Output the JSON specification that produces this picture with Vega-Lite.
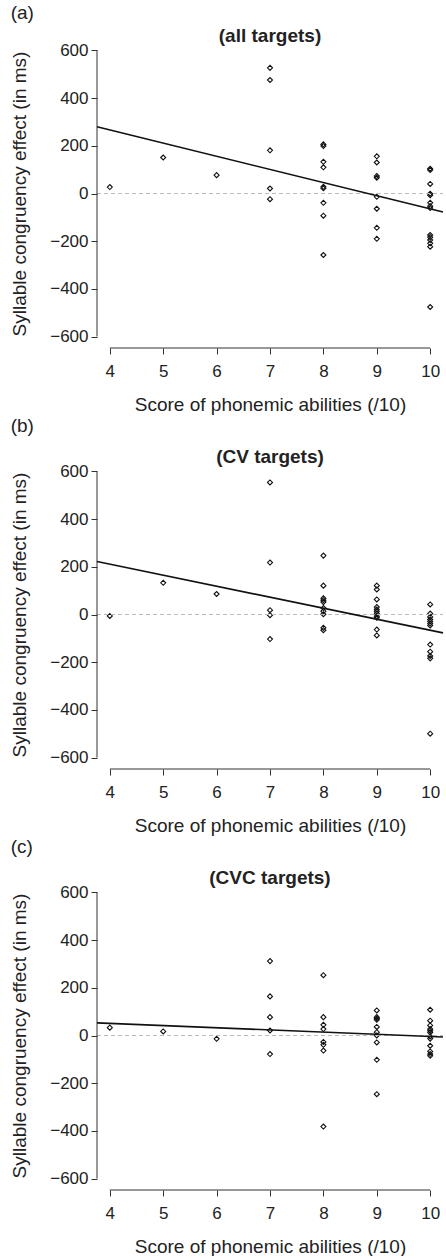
{
  "$schema": "https://vega.github.io/schema/vega-lite/v6.json",
  "autosize": {"type": "pad"},
  "padding": {"left": 10, "top": 4, "right": 0, "bottom": 0},
  "background": "white",
  "config": {
    "view": {"stroke": null},
    "font": "Liberation Sans",
    "axis": {
      "domain": false, "grid": false, "tickSize": 6, "tickColor": "#333", "tickWidth": 1,
      "labelFontSize": 17, "labelColor": "#222", "labelFont": "Liberation Sans",
      "titleFontSize": 19, "titleFontWeight": "normal", "titleColor": "#222", "titleFont": "Liberation Sans"
    }
  },
  "datasets": {
    "a": [
      {"x": 4, "y": 27}, {"x": 5, "y": 151}, {"x": 6, "y": 77},
      {"x": 7, "y": 527}, {"x": 7, "y": 476}, {"x": 7, "y": 181}, {"x": 7, "y": 21}, {"x": 7, "y": -24},
      {"x": 8, "y": 206}, {"x": 8, "y": 199}, {"x": 8, "y": 133}, {"x": 8, "y": 110}, {"x": 8, "y": 28}, {"x": 8, "y": 22}, {"x": 8, "y": -39}, {"x": 8, "y": -93}, {"x": 8, "y": -258},
      {"x": 9, "y": 156}, {"x": 9, "y": 130}, {"x": 9, "y": 73}, {"x": 9, "y": 66}, {"x": 9, "y": -14}, {"x": 9, "y": -64}, {"x": 9, "y": -144}, {"x": 9, "y": -190},
      {"x": 10, "y": 104}, {"x": 10, "y": 99}, {"x": 10, "y": 40}, {"x": 10, "y": -1}, {"x": 10, "y": -7}, {"x": 10, "y": -39}, {"x": 10, "y": -53}, {"x": 10, "y": -61}, {"x": 10, "y": -174}, {"x": 10, "y": -183}, {"x": 10, "y": -195}, {"x": 10, "y": -209}, {"x": 10, "y": -223}, {"x": 10, "y": -476}
    ],
    "b": [
      {"x": 4, "y": -6}, {"x": 5, "y": 133}, {"x": 6, "y": 86},
      {"x": 7, "y": 554}, {"x": 7, "y": 218}, {"x": 7, "y": 18}, {"x": 7, "y": -3}, {"x": 7, "y": -103},
      {"x": 8, "y": 247}, {"x": 8, "y": 121}, {"x": 8, "y": 68}, {"x": 8, "y": 60}, {"x": 8, "y": 52}, {"x": 8, "y": 27}, {"x": 8, "y": 14}, {"x": 8, "y": 1}, {"x": 8, "y": -56}, {"x": 8, "y": -66},
      {"x": 9, "y": 121}, {"x": 9, "y": 105}, {"x": 9, "y": 63}, {"x": 9, "y": 31}, {"x": 9, "y": 21}, {"x": 9, "y": 13}, {"x": 9, "y": 4}, {"x": 9, "y": -7}, {"x": 9, "y": -14}, {"x": 9, "y": -63}, {"x": 9, "y": -88},
      {"x": 10, "y": 42}, {"x": 10, "y": 4}, {"x": 10, "y": -10}, {"x": 10, "y": -21}, {"x": 10, "y": -29}, {"x": 10, "y": -38}, {"x": 10, "y": -46}, {"x": 10, "y": -126}, {"x": 10, "y": -156}, {"x": 10, "y": -174}, {"x": 10, "y": -184}, {"x": 10, "y": -500}
    ],
    "c": [
      {"x": 4, "y": 33}, {"x": 5, "y": 17}, {"x": 6, "y": -14},
      {"x": 7, "y": 312}, {"x": 7, "y": 164}, {"x": 7, "y": 77}, {"x": 7, "y": 21}, {"x": 7, "y": -78},
      {"x": 8, "y": 253}, {"x": 8, "y": 77}, {"x": 8, "y": 45}, {"x": 8, "y": 27}, {"x": 8, "y": -27}, {"x": 8, "y": -39}, {"x": 8, "y": -63}, {"x": 8, "y": -382},
      {"x": 9, "y": 105}, {"x": 9, "y": 77}, {"x": 9, "y": 71}, {"x": 9, "y": 66}, {"x": 9, "y": 36}, {"x": 9, "y": 14}, {"x": 9, "y": 0}, {"x": 9, "y": -29}, {"x": 9, "y": -102}, {"x": 9, "y": -246},
      {"x": 10, "y": 108}, {"x": 10, "y": 62}, {"x": 10, "y": 42}, {"x": 10, "y": 27}, {"x": 10, "y": 20}, {"x": 10, "y": 13}, {"x": 10, "y": -4}, {"x": 10, "y": -13}, {"x": 10, "y": -43}, {"x": 10, "y": -67}, {"x": 10, "y": -78}, {"x": 10, "y": -85}
    ],
    "fitA": [{"x": 3.76, "y": 280}, {"x": 10.24, "y": -78}],
    "fitB": [{"x": 3.76, "y": 222}, {"x": 10.24, "y": -77}],
    "fitC": [{"x": 3.76, "y": 53}, {"x": 10.24, "y": -6}],
    "one": [{}]
  },
  "vconcat": [
    {
      "width": 346, "height": 309,
      "title": {"text": "(a)", "anchor": "start", "frame": "bounds", "fontSize": 19, "fontWeight": "normal", "color": "#222", "offset": 4},
      "layer": [
        {"data": {"name": "a"}, "mark": {"type": "point", "shape": "diamond", "filled": false, "size": 25, "stroke": "#111", "strokeWidth": 1.1, "opacity": 1},
         "encoding": {
           "x": {"field": "x", "type": "quantitative", "scale": {"domain": [3.76, 10.24], "nice": false, "zero": false}, "axis": {"values": [4, 5, 6, 7, 8, 9, 10], "title": "Score of phonemic abilities (/10)", "labelPadding": 9, "titlePadding": 16}},
           "y": {"field": "y", "type": "quantitative", "scale": {"domain": [-648, 648], "nice": false, "zero": false}, "axis": {"values": [-600, -400, -200, 0, 200, 400, 600], "title": "Syllable congruency effect (in ms)", "labelPadding": 3, "titlePadding": 20}}
         }},
        {"data": {"name": "one"}, "mark": {"type": "rule", "color": "#bbb", "strokeDash": [4, 3], "strokeWidth": 1}, "encoding": {"x": {"datum": 3.76}, "x2": {"datum": 10.24}, "y": {"datum": 0}}},
        {"data": {"name": "one"}, "mark": {"type": "rule", "color": "#333", "strokeWidth": 1}, "encoding": {"x": {"datum": 3.76}, "y": {"datum": -600}, "y2": {"datum": 600}}},
        {"data": {"name": "one"}, "mark": {"type": "rule", "color": "#333", "strokeWidth": 1}, "encoding": {"x": {"datum": 4}, "x2": {"datum": 10}, "y": {"datum": -648}}},
        {"data": {"name": "fitA"}, "mark": {"type": "line", "color": "#111", "strokeWidth": 1.6}, "encoding": {"x": {"field": "x", "type": "quantitative"}, "y": {"field": "y", "type": "quantitative"}}},
        {"data": {"values": [{"label": "(all targets)"}]}, "mark": {"type": "text", "fontWeight": "bold", "fontSize": 19, "baseline": "middle", "color": "#222"}, "encoding": {"x": {"datum": 7}, "y": {"datum": 660}, "text": {"field": "label"}}}
      ]
    },
    {
      "width": 346, "height": 309,
      "title": {"text": "(b)", "anchor": "start", "frame": "bounds", "fontSize": 19, "fontWeight": "normal", "color": "#222", "offset": 12},
      "layer": [
        {"data": {"name": "b"}, "mark": {"type": "point", "shape": "diamond", "filled": false, "size": 25, "stroke": "#111", "strokeWidth": 1.1, "opacity": 1},
         "encoding": {
           "x": {"field": "x", "type": "quantitative", "scale": {"domain": [3.76, 10.24], "nice": false, "zero": false}, "axis": {"values": [4, 5, 6, 7, 8, 9, 10], "title": "Score of phonemic abilities (/10)", "labelPadding": 9, "titlePadding": 16}},
           "y": {"field": "y", "type": "quantitative", "scale": {"domain": [-648, 648], "nice": false, "zero": false}, "axis": {"values": [-600, -400, -200, 0, 200, 400, 600], "title": "Syllable congruency effect (in ms)", "labelPadding": 3, "titlePadding": 20}}
         }},
        {"data": {"name": "one"}, "mark": {"type": "rule", "color": "#bbb", "strokeDash": [4, 3], "strokeWidth": 1}, "encoding": {"x": {"datum": 3.76}, "x2": {"datum": 10.24}, "y": {"datum": 0}}},
        {"data": {"name": "one"}, "mark": {"type": "rule", "color": "#333", "strokeWidth": 1}, "encoding": {"x": {"datum": 3.76}, "y": {"datum": -600}, "y2": {"datum": 600}}},
        {"data": {"name": "one"}, "mark": {"type": "rule", "color": "#333", "strokeWidth": 1}, "encoding": {"x": {"datum": 4}, "x2": {"datum": 10}, "y": {"datum": -648}}},
        {"data": {"name": "fitB"}, "mark": {"type": "line", "color": "#111", "strokeWidth": 1.6}, "encoding": {"x": {"field": "x", "type": "quantitative"}, "y": {"field": "y", "type": "quantitative"}}},
        {"data": {"values": [{"label": "(CV targets)"}]}, "mark": {"type": "text", "fontWeight": "bold", "fontSize": 19, "baseline": "middle", "color": "#222"}, "encoding": {"x": {"datum": 7}, "y": {"datum": 660}, "text": {"field": "label"}}}
      ]
    },
    {
      "width": 346, "height": 309,
      "title": {"text": "(c)", "anchor": "start", "frame": "bounds", "fontSize": 19, "fontWeight": "normal", "color": "#222", "offset": 12},
      "layer": [
        {"data": {"name": "c"}, "mark": {"type": "point", "shape": "diamond", "filled": false, "size": 25, "stroke": "#111", "strokeWidth": 1.1, "opacity": 1},
         "encoding": {
           "x": {"field": "x", "type": "quantitative", "scale": {"domain": [3.76, 10.24], "nice": false, "zero": false}, "axis": {"values": [4, 5, 6, 7, 8, 9, 10], "title": "Score of phonemic abilities (/10)", "labelPadding": 9, "titlePadding": 16}},
           "y": {"field": "y", "type": "quantitative", "scale": {"domain": [-648, 648], "nice": false, "zero": false}, "axis": {"values": [-600, -400, -200, 0, 200, 400, 600], "title": "Syllable congruency effect (in ms)", "labelPadding": 3, "titlePadding": 20}}
         }},
        {"data": {"name": "one"}, "mark": {"type": "rule", "color": "#bbb", "strokeDash": [4, 3], "strokeWidth": 1}, "encoding": {"x": {"datum": 3.76}, "x2": {"datum": 10.24}, "y": {"datum": 0}}},
        {"data": {"name": "one"}, "mark": {"type": "rule", "color": "#333", "strokeWidth": 1}, "encoding": {"x": {"datum": 3.76}, "y": {"datum": -600}, "y2": {"datum": 600}}},
        {"data": {"name": "one"}, "mark": {"type": "rule", "color": "#333", "strokeWidth": 1}, "encoding": {"x": {"datum": 4}, "x2": {"datum": 10}, "y": {"datum": -648}}},
        {"data": {"name": "fitC"}, "mark": {"type": "line", "color": "#111", "strokeWidth": 1.6}, "encoding": {"x": {"field": "x", "type": "quantitative"}, "y": {"field": "y", "type": "quantitative"}}},
        {"data": {"values": [{"label": "(CVC targets)"}]}, "mark": {"type": "text", "fontWeight": "bold", "fontSize": 19, "baseline": "middle", "color": "#222"}, "encoding": {"x": {"datum": 7}, "y": {"datum": 660}, "text": {"field": "label"}}}
      ]
    }
  ],
  "bounds": "flush",
  "spacing": 112
}
